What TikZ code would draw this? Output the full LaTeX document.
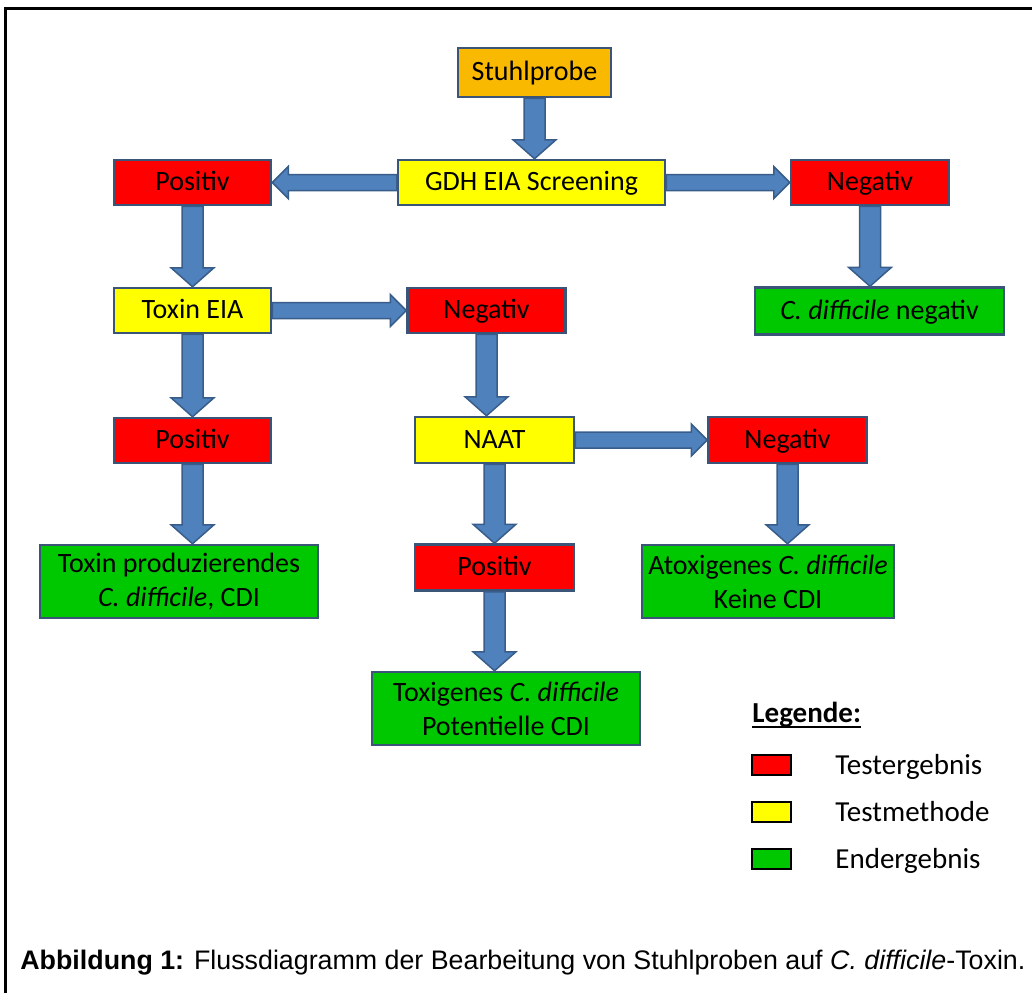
\documentclass[tikz,border=0pt]{standalone}
\usepackage{fontspec}
\setmainfont{Carlito}
\newfontfamily\capfont{Liberation Sans}
\usetikzlibrary{calc}
\definecolor{bred}{HTML}{FF0000}
\definecolor{byellow}{HTML}{FFFF00}
\definecolor{bgreen}{HTML}{00C800}
\definecolor{borange}{HTML}{F8B900}
\definecolor{boxborder}{HTML}{3A5578}
\definecolor{arrowfill}{HTML}{4F81BD}
\definecolor{arrowborder}{HTML}{385D8A}
\tikzset{
  box/.style={draw=boxborder, line width=1.25pt, inner sep=0pt, align=center,
    font=\fontsize{14}{17}\selectfont, text=black},
  sline/.style={text height=10.5pt, text depth=2.5pt},
  res/.style={box, sline, fill=bred},
  meth/.style={box, sline, fill=byellow},
  fin/.style={box, fill=bgreen},
  start/.style={box, sline, fill=borange},
  varrow/.style={fill=arrowfill, draw=arrowborder, line width=0.75pt,
    to path={let \p1=(\tikztostart), \p2=(\tikztotarget) in
      (\x1-5.25pt,\y1) -- (\x1-5.25pt,\y2+9.5pt) -- (\x1-10.75pt,\y2+9.5pt) -- (\x1,\y2)
      -- (\x1+10.75pt,\y2+9.5pt) -- (\x1+5.25pt,\y2+9.5pt) -- (\x1+5.25pt,\y1) -- cycle}},
  harrow/.style={fill=arrowfill, draw=arrowborder, line width=0.75pt,
    to path={let \p1=(\tikztostart), \p2=(\tikztotarget), \n1={sign(\x2-\x1)} in
      (\x1,\y1+4pt) -- ({\x2-(\n1)*8pt},\y1+4pt) -- ({\x2-(\n1)*8pt},\y1+8pt) -- (\x2,\y1)
      -- ({\x2-(\n1)*8pt},\y1-8pt) -- ({\x2-(\n1)*8pt},\y1-4pt) -- (\x1,\y1-4pt) -- cycle}},
  legbox/.style={draw=black, line width=1pt, minimum width=19.5pt, minimum height=10pt, inner sep=0pt},
  legtext/.style={anchor=base west, inner sep=0pt, font=\fontsize{14.5}{17}\selectfont, text=black}
}
\begin{document}
\begin{tikzpicture}[x=0.5pt, y=-0.5pt]
\useasboundingbox (0,0) rectangle (1032,993);
\draw[line width=1.5pt] (5.5,993) -- (5.5,8.5) -- (1032,8.5);

% boxes
\node[start, minimum width=76.5pt, minimum height=24.5pt] (st) at (534.5,72.5) {Stuhlprobe};
\node[meth, minimum width=133.5pt, minimum height=22.5pt] (gdh) at (531.5,182.5) {GDH EIA Screening};
\node[res, minimum width=78.5pt, minimum height=22.5pt] (p1) at (192.5,182.5) {Positiv};
\node[res, minimum width=79pt, minimum height=22.5pt] (n1) at (870,182.5) {Negativ};
\node[fin, sline, minimum width=124.5pt, minimum height=23.5pt] (cdn) at (879.5,311) {\textit{C. difficile} negativ};
\node[meth, minimum width=78.5pt, minimum height=22.5pt] (tox) at (192.5,310.5) {Toxin EIA};
\node[res, minimum width=79pt, minimum height=22.5pt] (n2) at (486.5,310.5) {Negativ};
\node[res, minimum width=78.5pt, minimum height=22.5pt] (p2) at (192.5,440.5) {Positiv};
\node[meth, minimum width=79.5pt, minimum height=23pt] (naat) at (494.5,440) {NAAT};
\node[res, minimum width=79pt, minimum height=23pt] (n3) at (787.5,440) {Negativ};
\node[fin, minimum width=139pt, minimum height=36.5pt] (tp) at (179,581.5) {Toxin produzierendes\\\textit{C. difficile}, CDI};
\node[res, minimum width=79.5pt, minimum height=23pt] (p3) at (494.5,567.5) {Positiv};
\node[fin, minimum width=126pt, minimum height=36.5pt] (atox) at (768,581.5) {Atoxigenes \textit{C. difficile}\\Keine CDI};
\node[fin, minimum width=134pt, minimum height=36.5pt] (tg) at (506,708.5) {Toxigenes \textit{C. difficile}\\Potentielle CDI};

% arrows
\draw[varrow] (st.south) to (gdh.north);
\draw[harrow] (gdh.west) to (p1.east);
\draw[harrow] (gdh.east) to (n1.west);
\draw[varrow] (p1.south) to (tox.north);
\draw[varrow] (n1.south) to (cdn.north);
\draw[harrow] (tox.east) to (n2.west);
\draw[varrow] (tox.south) to (p2.north);
\draw[varrow] (n2.south) to (naat.north);
\draw[varrow] (p2.south) to (tp.north);
\draw[harrow] (naat.east) to (n3.west);
\draw[varrow] (naat.south) to (p3.north);
\draw[varrow] (n3.south) to (atox.north);
\draw[varrow] (p3.south) to (tg.north);

% legend
\node[anchor=base west, inner sep=0pt, font=\bfseries\fontsize{14.5}{17}\selectfont] (leg) at (752,722) {Legende:};
\draw[line width=1pt] ([yshift=-2.5pt]leg.base west) -- ([yshift=-2.5pt]leg.base east);
\node[legbox, fill=bred] (lr) at (771.5,765) {};
\node[legbox, fill=byellow] (ly) at (771.5,811.5) {};
\node[legbox, fill=bgreen] (lg) at (771.5,858.5) {};
\node[legtext] (lrt) at (835,774) {Testergebnis};
\node[legtext] (lyt) at (835,821) {Testmethode};
\node[legtext] (lgt) at (835,868) {Endergebnis};

% caption
\node[anchor=base west, inner sep=0pt, font=\capfont\fontsize{13.4}{16}\selectfont] (cap) at (20,969)
  {\textbf{Abbildung 1:} Flussdiagramm der Bearbeitung von Stuhlproben auf \textit{C. difficile}-Toxin.};
\end{tikzpicture}
\end{document}
